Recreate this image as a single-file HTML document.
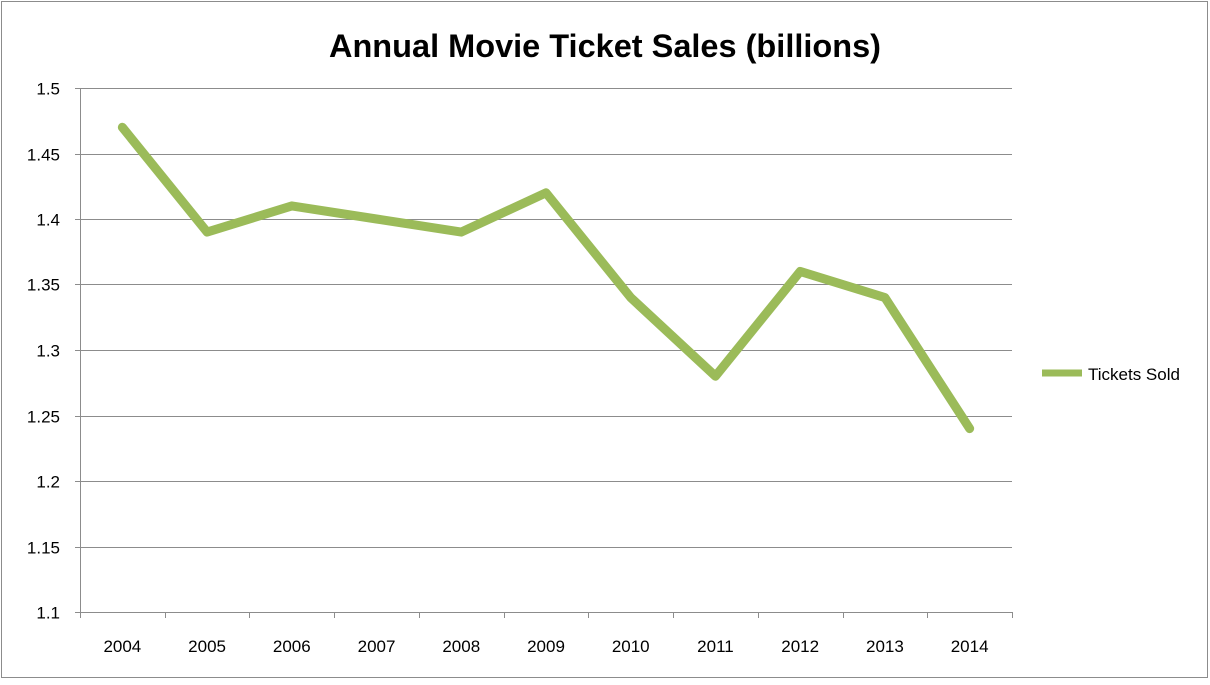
<!DOCTYPE html>
<html><head><meta charset="utf-8"><style>
body{margin:0;background:#fff;width:1210px;height:680px;overflow:hidden}
svg text{font-family:"Liberation Sans",sans-serif;fill:#000}
</style></head><body>
<svg id="chart" width="1210" height="680" xmlns="http://www.w3.org/2000/svg">
<rect x="1.5" y="1.5" width="1206" height="676" fill="#fff" stroke="#8c8c8c" stroke-width="1"/>
<text x="605" y="57" text-anchor="middle" font-size="32.5" font-weight="bold">Annual Movie Ticket Sales (billions)</text>
<g id="grid"></g><g id="axes"></g><g id="series"></g>
<g>
<line x1="1042" y1="373" x2="1082" y2="373" stroke="#9bbb59" stroke-width="7"/>
<text x="1088" y="380" font-size="17">Tickets Sold</text>
</g>
</svg>
<script>
const categories=["2004","2005","2006","2007","2008","2009","2010","2011","2012","2013","2014"];
const ticketsSold=[1.47,1.39,1.41,1.40,1.39,1.42,1.34,1.28,1.36,1.34,1.24];
const yTicks=[1.1,1.15,1.2,1.25,1.3,1.35,1.4,1.45,1.5];
const yTickLabels=["1.1","1.15","1.2","1.25","1.3","1.35","1.4","1.45","1.5"];
const L=80,R=1012,T=88,B=612,ymin=1.1,ymax=1.5;
const ns="http://www.w3.org/2000/svg";
const step=(R-L)/categories.length;
const xPos=i=>L+step*(i+0.5);
const yPos=v=>B-(v-ymin)/(ymax-ymin)*(B-T);
function mk(tag,attrs,parent,txt){const e=document.createElementNS(ns,tag);for(const k in attrs)e.setAttribute(k,attrs[k]);if(txt!=null)e.textContent=txt;document.getElementById(parent).appendChild(e);return e;}
yTicks.forEach((v,i)=>{
  const y=Math.round(yPos(v))+0.5;
  if(i>0){const g=mk('line',{x1:L,x2:R,y1:y,y2:y,stroke:'#8c8c8c','stroke-width':1},'grid');
  
  }
  const t=mk('line',{x1:L-5,x2:L,y1:y,y2:y,stroke:'#8c8c8c'},'axes');
  
  
  const lb=mk('text',{x:60,y:y+6,'text-anchor':'end','font-size':17},'axes',yTickLabels[i]);
  
  
});
const ya=mk('line',{x1:L+0.5,x2:L+0.5,y1:T,y2:B+0.5,stroke:'#8c8c8c'},'axes');


const xa=mk('line',{x1:L,x2:R,y1:B+0.5,y2:B+0.5,stroke:'#8c8c8c'},'axes');


for(let i=0;i<=categories.length;i++){
  const x=Math.round(L+step*i)+0.5;
  const t=mk('line',{x1:x,x2:x,y1:B,y2:B+6,stroke:'#8c8c8c'},'axes');
  
  
}
categories.forEach((c,i)=>{
  const lb=mk('text',{x:xPos(i),y:652,'text-anchor':'middle','font-size':17},'axes',c);
  
  
});
const pts=ticketsSold.map((v,i)=>xPos(i)+','+yPos(v)).join(' ');
const pl=mk('polyline',{points:pts,fill:'none',stroke:'#9bbb59','stroke-width':9,'stroke-linejoin':'round','stroke-linecap':'round'},'series');


</script>
</body></html>
